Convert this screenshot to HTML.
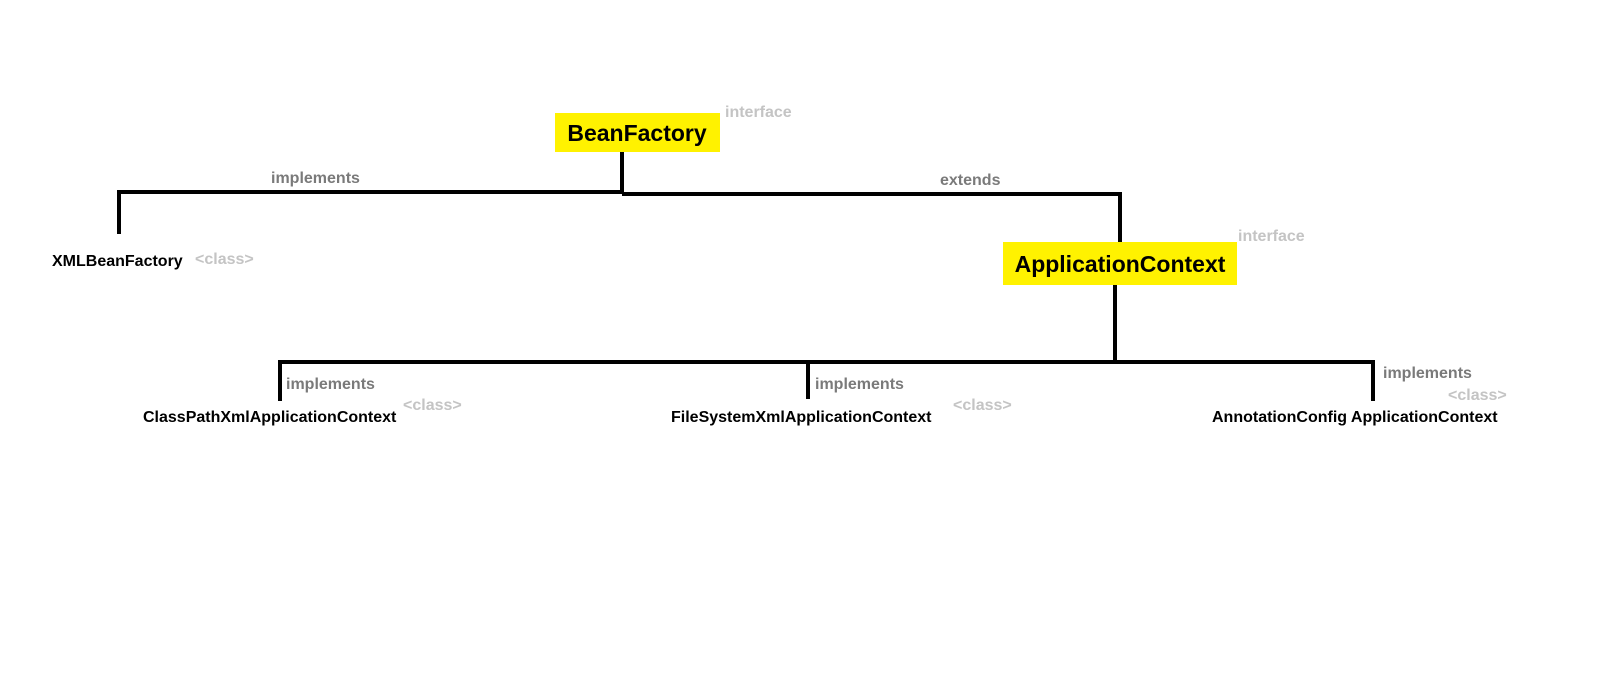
<!DOCTYPE html>
<html><head><meta charset="utf-8"><style>
html,body{margin:0;padding:0;background:#fff;}
svg{display:block;}
text{font-family:"Liberation Sans",Arial,sans-serif;font-weight:bold;}
.g{fill:#7a7a7a;font-size:16px;}
.l{fill:#c4c4c4;font-size:16px;}
.b{fill:#000;font-size:16px;}
.t{fill:#000;font-size:23px;}
</style></head><body>
<svg width="1600" height="680" viewBox="0 0 1600 680">
<rect x="555" y="113" width="165" height="39" fill="#fff200"/>
<text class="t" x="637" y="141" text-anchor="middle">BeanFactory</text>
<text class="l" x="725" y="117">interface</text>
<g stroke="#000" stroke-width="4" fill="none">
<line x1="622" y1="152" x2="622" y2="194"/>
<line x1="117" y1="192" x2="624" y2="192"/>
<line x1="622" y1="194" x2="1122" y2="194"/>
<line x1="119" y1="190" x2="119" y2="234"/>
<line x1="1120" y1="192" x2="1120" y2="242"/>
<line x1="1115" y1="285" x2="1115" y2="362"/>
<line x1="278" y1="362" x2="1375" y2="362"/>
<line x1="280" y1="360" x2="280" y2="401"/>
<line x1="808" y1="360" x2="808" y2="399"/>
<line x1="1373" y1="360" x2="1373" y2="401"/>
</g>
<text class="g" x="271" y="183">implements</text>
<text class="g" x="940" y="185">extends</text>
<text class="b" x="52" y="266">XMLBeanFactory</text>
<text class="l" x="195" y="264">&lt;class&gt;</text>
<rect x="1003" y="242" width="234" height="43" fill="#fff200"/>
<text class="t" x="1120" y="272" text-anchor="middle">ApplicationContext</text>
<text class="l" x="1238" y="241">interface</text>
<text class="g" x="286" y="389">implements</text>
<text class="l" x="403" y="410">&lt;class&gt;</text>
<text class="b" x="143" y="422">ClassPathXmlApplicationContext</text>
<text class="g" x="815" y="389">implements</text>
<text class="l" x="953" y="410">&lt;class&gt;</text>
<text class="b" x="671" y="422">FileSystemXmlApplicationContext</text>
<text class="g" x="1383" y="378">implements</text>
<text class="l" x="1448" y="400">&lt;class&gt;</text>
<text class="b" x="1212" y="422">AnnotationConfig ApplicationContext</text>
</svg>
</body></html>
